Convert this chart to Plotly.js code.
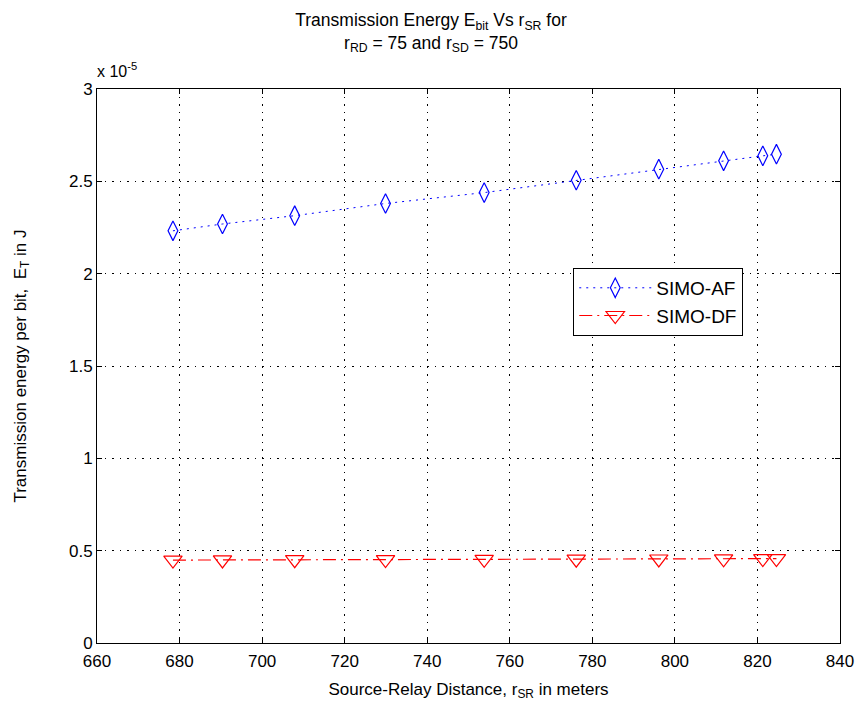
<!DOCTYPE html>
<html>
<head>
<meta charset="utf-8">
<script src="https://cdn.plot.ly/plotly-3.0.1.min.js"></script>
<style>html,body{margin:0;padding:0;background:#fff;}#chart{width:862px;height:719px;}</style>
</head>
<body>
<div id="chart"></div>
<script>
// Source-relay distance r_SR (m)
const rSR = [678.4, 690.4, 707.9, 729.9, 753.8, 776.1, 796.1, 811.8, 821.3, 824.6];
// Transmission energy per bit, in units of 1e-5 J
const energyAF = [2.232, 2.269, 2.314, 2.380, 2.439, 2.506, 2.566, 2.611, 2.638, 2.647];
const energyDF = [0.449, 0.450, 0.451, 0.452, 0.453, 0.454, 0.455, 0.456, 0.457, 0.457];
const seriesNames = ["SIMO-AF", "SIMO-DF"];
const xTicks = [660, 680, 700, 720, 740, 760, 780, 800, 820, 840];
const yTicks = [0, 0.5, 1, 1.5, 2, 2.5, 3];
const yTickText = ["0", "0.5", "1", "1.5", "2", "2.5", "3"];

const FONT = "Liberation Sans, Arial, sans-serif";

const traces = [
  {
    x: rSR, y: energyAF, name: seriesNames[0], type: "scatter", mode: "lines+markers",
    line: {color: "#0000ff", width: 1, dash: "2px,5px"},
    marker: {symbol: "diamond-tall-open", size: 14, color: "#0000ff", line: {width: 1.2, color: "#0000ff"}}
  },
  {
    x: rSR, y: energyDF, name: seriesNames[1], type: "scatter", mode: "lines+markers",
    line: {color: "#ff0000", width: 1.2, dash: "13px,5px,2px,5px"},
    marker: {symbol: "triangle-down-open", size: 16, color: "#ff0000", line: {width: 1.2, color: "#ff0000"}}
  }
];

const axisCommon = {
  showline: true, linecolor: "#000", linewidth: 1, mirror: "ticks",
  ticks: "inside", ticklen: 5, tickcolor: "#000",
  showgrid: true, gridcolor: "#000", griddash: "1.5px,6px", gridwidth: 1,
  zeroline: false, tickfont: {family: FONT, size: 17, color: "#000"}
};

const layout = {
  width: 862, height: 719,
  paper_bgcolor: "#fff", plot_bgcolor: "#fff",
  margin: {l: 97, r: 22, t: 89, b: 76},
  font: {family: FONT, size: 17, color: "#000"},
  title: {
    text: "Transmission Energy E<sub>bit</sub> Vs r<sub>SR</sub> for<br>r<sub>RD</sub> = 75 and r<sub>SD</sub> = 750",
    font: {family: FONT, size: 17.5, color: "#000"},
    x: 0.5, xanchor: "center", yref: "container", y: 0.964, yanchor: "top"
  },
  xaxis: Object.assign({}, axisCommon, {
    range: [660, 840], tickvals: xTicks, ticktext: xTicks.map(String),
    ticklabelstandoff: 3,
    title: {text: "Source-Relay Distance, r<sub>SR</sub> in meters", font: {family: FONT, size: 17, color: "#000"}, standoff: 12}
  }),
  yaxis: Object.assign({}, axisCommon, {
    range: [0, 3], tickvals: yTicks, ticktext: yTickText,
    title: {text: "Transmission energy per bit,  E<sub>T</sub> in J", font: {family: FONT, size: 17, color: "#000"}, standoff: 38}
  }),
  showlegend: true,
  legend: {
    x: 0.641, y: 0.677, xanchor: "left", yanchor: "top",
    bgcolor: "#fff", bordercolor: "#000", borderwidth: 1,
    itemwidth: 72,
    font: {family: FONT, size: 19, color: "#000"}
  },
  annotations: [{
    text: "x 10<sup>-5</sup>", xref: "paper", yref: "paper", x: -0.003, y: 1.012,
    xanchor: "left", yanchor: "bottom", showarrow: false,
    font: {family: FONT, size: 16, color: "#000"}
  }]
};

Plotly.newPlot("chart", traces, layout, {displayModeBar: false});
</script>
</body>
</html>
